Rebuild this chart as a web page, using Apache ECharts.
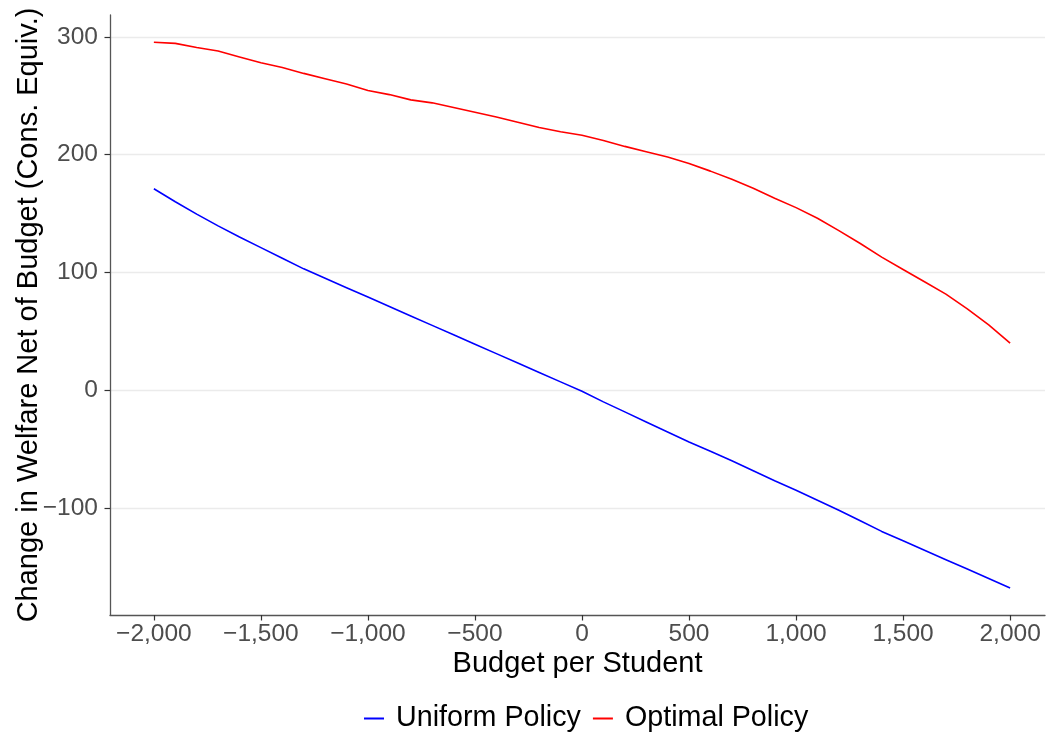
<!DOCTYPE html>
<html>
<head>
<meta charset="utf-8">
<script src="https://cdn.jsdelivr.net/npm/echarts@6/dist/echarts.min.js"></script>
<style>html,body{margin:0;padding:0;background:#fff}#c{width:1047px;height:736px}</style>
</head>
<body>
<div id="c"></div>
<script>
const budget = [-2000,-1900,-1800,-1700,-1600,-1500,-1400,-1300,-1200,-1100,-1000,-900,-800,-700,-600,-500,-400,-300,-200,-100,0,100,200,300,400,500,600,700,800,900,1000,1100,1200,1300,1400,1500,1600,1700,1800,1900,2000];
const uniformPolicy = [171,160,149.5,139.5,130,121,112,103,95,87,79,71,63,55,47,39,31,23,15,7,-1,-10,-18.5,-27,-35.5,-44,-52,-60,-68.5,-77,-85,-93.5,-102,-111,-120,-128,-136,-144,-152,-160,-168];
const optimalPolicy = [295.5,294.5,291,288,283,278,274,269,264.5,260,254.5,251,246.5,244,240,236,232,227.5,223,219.5,216.5,212,207,202.5,198,192.5,186,179,171.5,163,155,146,135.5,124.5,113,102.5,92,81.5,69,55.5,40];
const xTicks = [-2000,-1500,-1000,-500,0,500,1000,1500,2000];
const yTicks = [-100,0,100,200,300];

function fmt(v){
  const s = Math.abs(v).toString().replace(/\B(?=(\d{3})+(?!\d))/g, ',');
  return (v < 0 ? '\u2212' : '') + s;
}

const chart = echarts.init(document.getElementById('c'));
const font = 'Liberation Sans, Arial, sans-serif';
chart.setOption({
  animation: false,
  backgroundColor: '#fff',
  grid: {left: 110, right: 2, top: 15, bottom: 121, containLabel: false, outerBoundsMode: 'none'},
  legend: {
    bottom: -2, left: 359,
    itemWidth: 20, itemHeight: 2, itemGap: 12,
    icon: 'rect',
    textStyle: {fontFamily: font, fontSize: 28.7, color: '#000', padding: [0,0,0,7]},
    data: ['Uniform Policy', 'Optimal Policy']
  },
  xAxis: {
    type: 'value', min: -2205, max: 2163,
    name: 'Budget per Student', nameLocation: 'middle', nameGap: 34.5, nameMoveOverlap: false,
    nameTextStyle: {fontFamily: font, fontSize: 29, color: '#000'},
    axisLine: {show: true, onZero: false, lineStyle: {color: '#555', width: 1.3}},
    axisTick: {show: true, length: 5.5, lineStyle: {color: '#333', width: 1.2}, customValues: xTicks},
    axisLabel: {fontFamily: font, fontSize: 24.5, color: '#4d4d4d', margin: 7, customValues: xTicks, formatter: fmt},
    splitLine: {show: false}
  },
  yAxis: {
    type: 'value', min: -191, max: 318.6,
    name: 'Change in Welfare Net of Budget (Cons. Equiv.)', nameLocation: 'middle', nameGap: 67, nameMoveOverlap: false,
    nameTextStyle: {fontFamily: font, fontSize: 29, color: '#000'},
    axisLine: {show: true, onZero: false, lineStyle: {color: '#555', width: 1.3}},
    axisTick: {show: true, length: 5.5, lineStyle: {color: '#333', width: 1.2}, customValues: yTicks},
    axisLabel: {fontFamily: font, fontSize: 24.5, color: '#4d4d4d', margin: 12, customValues: yTicks, formatter: fmt},
    splitLine: {show: true, lineStyle: {color: '#ebebeb', width: 1.3}}
  },
  series: [
    {name: 'Uniform Policy', type: 'line', showSymbol: false, symbol: 'none',
     lineStyle: {color: '#0000ff', width: 1.6}, itemStyle: {color: '#0000ff'},
     data: budget.map((b, i) => [b, uniformPolicy[i]])},
    {name: 'Optimal Policy', type: 'line', showSymbol: false, symbol: 'none',
     lineStyle: {color: '#ff0000', width: 1.6}, itemStyle: {color: '#ff0000'},
     data: budget.map((b, i) => [b, optimalPolicy[i]])}
  ]
});
</script>
</body>
</html>
